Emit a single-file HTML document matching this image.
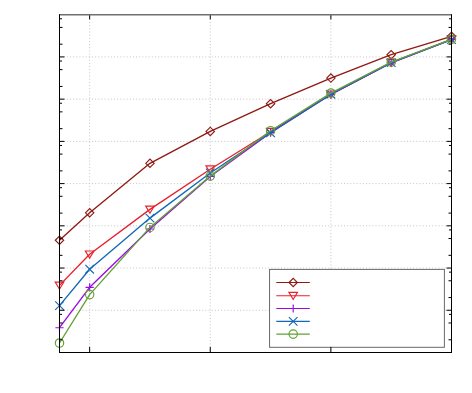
<!DOCTYPE html>
<html><head><meta charset="utf-8"><title>chart</title>
<style>html,body{margin:0;padding:0;background:#fff;font-family:"Liberation Sans",sans-serif}svg{display:block}</style>
</head><body>
<svg width="472" height="393" viewBox="0 0 472 393">
<rect width="472" height="393" fill="#fff"/>
<g stroke="#c4c4c4" stroke-width="1" stroke-dasharray="1 2.15" fill="none"><line x1="89.65" y1="15.70" x2="89.65" y2="352.50"/><line x1="210.27" y1="15.70" x2="210.27" y2="352.50"/><line x1="330.88" y1="15.70" x2="330.88" y2="352.50"/><line x1="60.50" y1="56.92" x2="451.50" y2="56.92"/><line x1="60.50" y1="99.15" x2="451.50" y2="99.15"/><line x1="60.50" y1="141.38" x2="451.50" y2="141.38"/><line x1="60.50" y1="183.60" x2="451.50" y2="183.60"/><line x1="60.50" y1="225.82" x2="451.50" y2="225.82"/><line x1="60.50" y1="268.05" x2="451.50" y2="268.05"/><line x1="60.50" y1="310.27" x2="451.50" y2="310.27"/></g>
<polyline points="59.50,240.25 89.65,212.80 149.96,163.30 210.27,131.40 270.58,103.70 330.88,78.10 391.19,54.70 451.50,36.30" fill="none" stroke="#8f1a14" stroke-width="1.35" stroke-linejoin="round"/>
<path d="M55.30 240.25L59.50 236.05L63.70 240.25L59.50 244.45Z" fill="none" stroke="#8f1a14" stroke-width="1.15"/>
<path d="M85.45 212.80L89.65 208.60L93.85 212.80L89.65 217.00Z" fill="none" stroke="#8f1a14" stroke-width="1.15"/>
<path d="M145.76 163.30L149.96 159.10L154.16 163.30L149.96 167.50Z" fill="none" stroke="#8f1a14" stroke-width="1.15"/>
<path d="M206.07 131.40L210.27 127.20L214.47 131.40L210.27 135.60Z" fill="none" stroke="#8f1a14" stroke-width="1.15"/>
<path d="M266.38 103.70L270.58 99.50L274.78 103.70L270.58 107.90Z" fill="none" stroke="#8f1a14" stroke-width="1.15"/>
<path d="M326.68 78.10L330.88 73.90L335.08 78.10L330.88 82.30Z" fill="none" stroke="#8f1a14" stroke-width="1.15"/>
<path d="M386.99 54.70L391.19 50.50L395.39 54.70L391.19 58.90Z" fill="none" stroke="#8f1a14" stroke-width="1.15"/>
<path d="M447.30 36.30L451.50 32.10L455.70 36.30L451.50 40.50Z" fill="none" stroke="#8f1a14" stroke-width="1.15"/>
<polyline points="59.50,285.40 89.65,254.30 149.96,209.40 210.27,169.20 270.58,131.70 330.88,94.30 391.19,62.60 451.50,39.40" fill="none" stroke="#e8202c" stroke-width="1.35" stroke-linejoin="round"/>
<path d="M55.20 282.10L63.80 282.10L59.50 289.20Z" fill="none" stroke="#e8202c" stroke-width="1.15"/>
<path d="M85.35 251.00L93.95 251.00L89.65 258.10Z" fill="none" stroke="#e8202c" stroke-width="1.15"/>
<path d="M145.66 206.10L154.26 206.10L149.96 213.20Z" fill="none" stroke="#e8202c" stroke-width="1.15"/>
<path d="M205.97 165.90L214.57 165.90L210.27 173.00Z" fill="none" stroke="#e8202c" stroke-width="1.15"/>
<path d="M266.28 128.40L274.88 128.40L270.58 135.50Z" fill="none" stroke="#e8202c" stroke-width="1.15"/>
<path d="M326.58 91.00L335.18 91.00L330.88 98.10Z" fill="none" stroke="#e8202c" stroke-width="1.15"/>
<path d="M386.89 59.30L395.49 59.30L391.19 66.40Z" fill="none" stroke="#e8202c" stroke-width="1.15"/>
<path d="M447.20 36.10L455.80 36.10L451.50 43.20Z" fill="none" stroke="#e8202c" stroke-width="1.15"/>
<polyline points="59.50,327.70 89.65,287.30 149.96,229.00 210.27,176.50 270.58,132.60 330.88,94.50 391.19,62.80 451.50,39.60" fill="none" stroke="#9a0ae6" stroke-width="1.35" stroke-linejoin="round"/>
<path d="M55.40 327.70H63.60M59.50 323.60V331.80" fill="none" stroke="#9a0ae6" stroke-width="1.15"/>
<path d="M85.55 287.30H93.75M89.65 283.20V291.40" fill="none" stroke="#9a0ae6" stroke-width="1.15"/>
<path d="M145.86 229.00H154.06M149.96 224.90V233.10" fill="none" stroke="#9a0ae6" stroke-width="1.15"/>
<path d="M206.17 176.50H214.37M210.27 172.40V180.60" fill="none" stroke="#9a0ae6" stroke-width="1.15"/>
<path d="M266.48 132.60H274.68M270.58 128.50V136.70" fill="none" stroke="#9a0ae6" stroke-width="1.15"/>
<path d="M326.78 94.50H334.98M330.88 90.40V98.60" fill="none" stroke="#9a0ae6" stroke-width="1.15"/>
<path d="M387.09 62.80H395.29M391.19 58.70V66.90" fill="none" stroke="#9a0ae6" stroke-width="1.15"/>
<path d="M447.40 39.60H455.60M451.50 35.50V43.70" fill="none" stroke="#9a0ae6" stroke-width="1.15"/>
<polyline points="59.50,305.60 89.65,269.20 149.96,218.10 210.27,173.00 270.58,132.80 330.88,94.20 391.19,62.60 451.50,39.60" fill="none" stroke="#1268b8" stroke-width="1.35" stroke-linejoin="round"/>
<path d="M55.20 301.30L63.80 309.90M55.20 309.90L63.80 301.30" fill="none" stroke="#1268b8" stroke-width="1.15"/>
<path d="M85.35 264.90L93.95 273.50M85.35 273.50L93.95 264.90" fill="none" stroke="#1268b8" stroke-width="1.15"/>
<path d="M145.66 213.80L154.26 222.40M145.66 222.40L154.26 213.80" fill="none" stroke="#1268b8" stroke-width="1.15"/>
<path d="M205.97 168.70L214.57 177.30M205.97 177.30L214.57 168.70" fill="none" stroke="#1268b8" stroke-width="1.15"/>
<path d="M266.28 128.50L274.88 137.10M266.28 137.10L274.88 128.50" fill="none" stroke="#1268b8" stroke-width="1.15"/>
<path d="M326.58 89.90L335.18 98.50M326.58 98.50L335.18 89.90" fill="none" stroke="#1268b8" stroke-width="1.15"/>
<path d="M386.89 58.30L395.49 66.90M386.89 66.90L395.49 58.30" fill="none" stroke="#1268b8" stroke-width="1.15"/>
<path d="M447.20 35.30L455.80 43.90M447.20 43.90L455.80 35.30" fill="none" stroke="#1268b8" stroke-width="1.15"/>
<polyline points="59.50,343.00 89.65,294.60 149.96,227.40 210.27,176.10 270.58,130.70 330.88,93.10 391.19,62.20 451.50,39.30" fill="none" stroke="#62a036" stroke-width="1.35" stroke-linejoin="round"/>
<circle cx="59.50" cy="343.00" r="4.2" fill="none" stroke="#62a036" stroke-width="1.15"/>
<circle cx="89.65" cy="294.60" r="4.2" fill="none" stroke="#62a036" stroke-width="1.15"/>
<circle cx="149.96" cy="227.40" r="4.2" fill="none" stroke="#62a036" stroke-width="1.15"/>
<circle cx="210.27" cy="176.10" r="4.2" fill="none" stroke="#62a036" stroke-width="1.15"/>
<circle cx="270.58" cy="130.70" r="4.2" fill="none" stroke="#62a036" stroke-width="1.15"/>
<circle cx="330.88" cy="93.10" r="4.2" fill="none" stroke="#62a036" stroke-width="1.15"/>
<circle cx="391.19" cy="62.20" r="4.2" fill="none" stroke="#62a036" stroke-width="1.15"/>
<circle cx="451.50" cy="39.30" r="4.2" fill="none" stroke="#62a036" stroke-width="1.15"/>
<rect x="269.55" y="269.4" width="174.84999999999997" height="77.90000000000003" fill="#fff" stroke="#6a6a6a" stroke-width="1"/>
<line x1="276.3" y1="282.5" x2="309.8" y2="282.5" stroke="#8f1a14" stroke-width="1.1"/>
<path d="M289.00 282.50L293.20 278.30L297.40 282.50L293.20 286.70Z" fill="none" stroke="#8f1a14" stroke-width="1.15"/>
<line x1="276.3" y1="295.7" x2="309.8" y2="295.7" stroke="#e8202c" stroke-width="1.1"/>
<path d="M288.90 292.40L297.50 292.40L293.20 299.50Z" fill="none" stroke="#e8202c" stroke-width="1.15"/>
<line x1="276.3" y1="308.5" x2="309.8" y2="308.5" stroke="#9a0ae6" stroke-width="1.1"/>
<path d="M289.10 308.50H297.30M293.20 304.40V312.60" fill="none" stroke="#9a0ae6" stroke-width="1.15"/>
<line x1="276.3" y1="321.4" x2="309.8" y2="321.4" stroke="#1268b8" stroke-width="1.1"/>
<path d="M288.90 317.10L297.50 325.70M288.90 325.70L297.50 317.10" fill="none" stroke="#1268b8" stroke-width="1.15"/>
<line x1="276.3" y1="334.1" x2="309.8" y2="334.1" stroke="#62a036" stroke-width="1.1"/>
<circle cx="293.20" cy="334.10" r="4.2" fill="none" stroke="#62a036" stroke-width="1.15"/>
<g stroke="#000" stroke-width="1" fill="none"><line x1="89.65" y1="14.70" x2="89.65" y2="19.40"/><line x1="89.65" y1="352.50" x2="89.65" y2="346.90"/><line x1="210.27" y1="14.70" x2="210.27" y2="19.40"/><line x1="210.27" y1="352.50" x2="210.27" y2="346.90"/><line x1="330.88" y1="14.70" x2="330.88" y2="19.40"/><line x1="330.88" y1="352.50" x2="330.88" y2="346.90"/><line x1="59.50" y1="44.21" x2="62.50" y2="44.21"/><line x1="451.50" y1="44.21" x2="448.50" y2="44.21"/><line x1="59.50" y1="27.41" x2="62.50" y2="27.41"/><line x1="451.50" y1="27.41" x2="448.50" y2="27.41"/><line x1="59.50" y1="18.79" x2="62.00" y2="18.79"/><line x1="451.50" y1="18.79" x2="449.00" y2="18.79"/><line x1="59.50" y1="56.92" x2="64.50" y2="56.92"/><line x1="451.50" y1="56.92" x2="446.50" y2="56.92"/><line x1="59.50" y1="86.44" x2="62.50" y2="86.44"/><line x1="451.50" y1="86.44" x2="448.50" y2="86.44"/><line x1="59.50" y1="69.64" x2="62.50" y2="69.64"/><line x1="451.50" y1="69.64" x2="448.50" y2="69.64"/><line x1="59.50" y1="61.02" x2="62.00" y2="61.02"/><line x1="451.50" y1="61.02" x2="449.00" y2="61.02"/><line x1="59.50" y1="99.15" x2="64.50" y2="99.15"/><line x1="451.50" y1="99.15" x2="446.50" y2="99.15"/><line x1="59.50" y1="128.66" x2="62.50" y2="128.66"/><line x1="451.50" y1="128.66" x2="448.50" y2="128.66"/><line x1="59.50" y1="111.86" x2="62.50" y2="111.86"/><line x1="451.50" y1="111.86" x2="448.50" y2="111.86"/><line x1="59.50" y1="103.24" x2="62.00" y2="103.24"/><line x1="451.50" y1="103.24" x2="449.00" y2="103.24"/><line x1="59.50" y1="141.38" x2="64.50" y2="141.38"/><line x1="451.50" y1="141.38" x2="446.50" y2="141.38"/><line x1="59.50" y1="170.89" x2="62.50" y2="170.89"/><line x1="451.50" y1="170.89" x2="448.50" y2="170.89"/><line x1="59.50" y1="154.09" x2="62.50" y2="154.09"/><line x1="451.50" y1="154.09" x2="448.50" y2="154.09"/><line x1="59.50" y1="145.47" x2="62.00" y2="145.47"/><line x1="451.50" y1="145.47" x2="449.00" y2="145.47"/><line x1="59.50" y1="183.60" x2="64.50" y2="183.60"/><line x1="451.50" y1="183.60" x2="446.50" y2="183.60"/><line x1="59.50" y1="213.11" x2="62.50" y2="213.11"/><line x1="451.50" y1="213.11" x2="448.50" y2="213.11"/><line x1="59.50" y1="196.31" x2="62.50" y2="196.31"/><line x1="451.50" y1="196.31" x2="448.50" y2="196.31"/><line x1="59.50" y1="187.69" x2="62.00" y2="187.69"/><line x1="451.50" y1="187.69" x2="449.00" y2="187.69"/><line x1="59.50" y1="225.82" x2="64.50" y2="225.82"/><line x1="451.50" y1="225.82" x2="446.50" y2="225.82"/><line x1="59.50" y1="255.34" x2="62.50" y2="255.34"/><line x1="451.50" y1="255.34" x2="448.50" y2="255.34"/><line x1="59.50" y1="238.54" x2="62.50" y2="238.54"/><line x1="451.50" y1="238.54" x2="448.50" y2="238.54"/><line x1="59.50" y1="229.92" x2="62.00" y2="229.92"/><line x1="451.50" y1="229.92" x2="449.00" y2="229.92"/><line x1="59.50" y1="268.05" x2="64.50" y2="268.05"/><line x1="451.50" y1="268.05" x2="446.50" y2="268.05"/><line x1="59.50" y1="297.56" x2="62.50" y2="297.56"/><line x1="451.50" y1="297.56" x2="448.50" y2="297.56"/><line x1="59.50" y1="280.76" x2="62.50" y2="280.76"/><line x1="451.50" y1="280.76" x2="448.50" y2="280.76"/><line x1="59.50" y1="272.14" x2="62.00" y2="272.14"/><line x1="451.50" y1="272.14" x2="449.00" y2="272.14"/><line x1="59.50" y1="310.27" x2="64.50" y2="310.27"/><line x1="451.50" y1="310.27" x2="446.50" y2="310.27"/><line x1="59.50" y1="339.79" x2="62.50" y2="339.79"/><line x1="451.50" y1="339.79" x2="448.50" y2="339.79"/><line x1="59.50" y1="322.99" x2="62.50" y2="322.99"/><line x1="451.50" y1="322.99" x2="448.50" y2="322.99"/><line x1="59.50" y1="314.37" x2="62.00" y2="314.37"/><line x1="451.50" y1="314.37" x2="449.00" y2="314.37"/></g>
<line x1="59.5" y1="14.8" x2="451.5" y2="14.8" stroke="#707070" stroke-width="1.6"/>
<g stroke="#000" stroke-width="1" fill="none" stroke-linecap="square"><line x1="59.5" y1="352.5" x2="451.5" y2="352.5"/><line x1="59.5" y1="14.7" x2="59.5" y2="352.5"/><line x1="451.5" y1="14.7" x2="451.5" y2="352.5"/></g>
</svg>
</body></html>
